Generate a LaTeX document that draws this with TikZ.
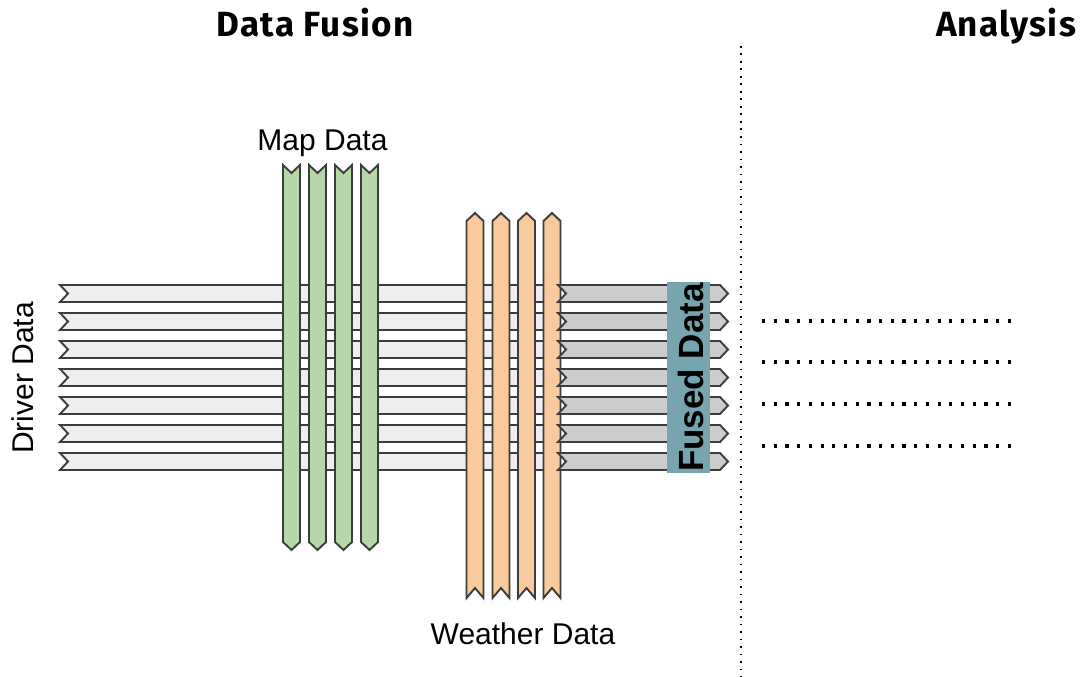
\documentclass[tikz,border=0pt]{standalone}
\usepackage{fontspec}
\setmainfont{Liberation Sans}
\newfontfamily\headfont{Fira Sans}[LetterSpace=3.5]
\definecolor{mapgreen}{HTML}{B6D7A8}
\definecolor{weatherorange}{HTML}{F9CB9C}
\definecolor{driverlight}{HTML}{EEEEEE}
\definecolor{fusedgray}{HTML}{CCCCCC}
\definecolor{fusedteal}{HTML}{76A5AF}
\definecolor{edgegray}{HTML}{3C3C3C}
\begin{document}
\begin{tikzpicture}[x=1bp,y=-1bp,
  strip/.style={draw=edgegray,line width=1.9bp,line join=miter},
  heading/.style={font=\headfont\bfseries\fontsize{35bp}{40bp}\selectfont,inner sep=0pt,anchor=base},
  label/.style={font=\fontsize{30bp}{34bp}\selectfont,inner sep=0pt,anchor=base},
  sepline/.style={line width=1.7bp,dash pattern=on 1.7bp off 5.8bp,black},
  outline/.style={line width=3.2bp,dash pattern=on 3.2bp off 8.5bp,black}]
\useasboundingbox (0,0) rectangle (1080,677);

% driver data strips (light, notched tail on the left)
\foreach \c in {293.5,321.5,349.5,377.5,405.5,433.5,461.5}{
  \draw[strip,fill=driverlight] (60,\c-8.5) -- (560,\c-8.5) -- (560,\c+8.5)
    -- (60,\c+8.5) -- (68,\c) -- cycle;
}

% map data strips (green, pointing down)
\foreach \x in {291.5,317.5,343.5,369.5}{
  \draw[strip,fill=mapgreen] (\x-8.5,165) -- (\x,173) -- (\x+8.5,165)
    -- (\x+8.5,542) -- (\x,550) -- (\x-8.5,542) -- cycle;
}

% weather data strips (orange, pointing up)
\foreach \x in {475,501,526.5,552}{
  \draw[strip,fill=weatherorange] (\x-8.5,221) -- (\x,213) -- (\x+8.5,221)
    -- (\x+8.5,598) -- (\x,588) -- (\x-8.5,598) -- cycle;
}

% fused data strips (darker, pointing right)
\foreach \c in {293.5,321.5,349.5,377.5,405.5,433.5,461.5}{
  \draw[strip,fill=fusedgray] (558,\c-8.5) -- (720,\c-8.5) -- (728,\c)
    -- (720,\c+8.5) -- (558,\c+8.5) -- (566,\c) -- cycle;
}

% fused data band
\node[fill=fusedteal,minimum width=43bp,minimum height=191bp,inner sep=0pt]
  (fused) at (688.5,377.5) {};
\node[rotate=90,anchor=base,font=\bfseries\fontsize{35bp}{40bp}\selectfont,inner sep=0pt]
  (fusedtext) at (703,377.5) {Fused Data};

% separator between the two stages
\coordinate (septop) at (741,46);
\coordinate (sepbot) at (741,677);
\draw[sepline] (septop) -- (sepbot);

% analysis placeholders
\foreach \y [count=\i] in {321,362,404,446}{
  \coordinate (ra\i) at (762,\y);
  \coordinate (rb\i) at (1012,\y);
  \draw[outline] (ra\i) -- (rb\i);
}

% headings and labels
\node[heading] (fusionhead) at (315,37) {Data Fusion};
\node[heading] (analysishead) at (1006,37) {Analysis};
\node[label] (maplabel) at (322.5,151) {Map Data};
\node[label] (weatherlabel) at (523,644) {Weather Data};
\node[label,rotate=90] (driverlabel) at (33,378) {Driver Data};
\end{tikzpicture}
\end{document}
